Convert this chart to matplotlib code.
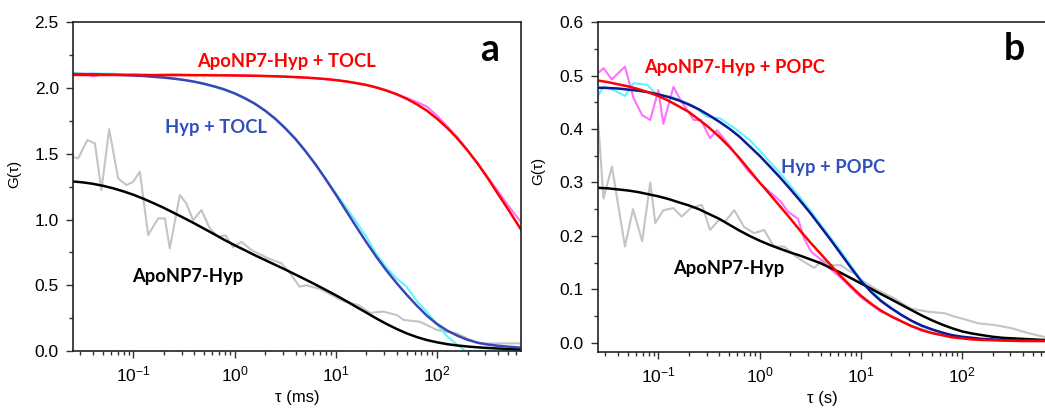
import matplotlib
matplotlib.use('Agg')
import matplotlib.pyplot as plt
from matplotlib.ticker import MultipleLocator, LogLocator, NullFormatter, FormatStrFormatter

plt.rcParams['font.family'] = ['Liberation Sans', 'DejaVu Sans']

# fitted curves are read on this tau grid (ms for panel a, s for panel b)
fit_tau = [0.0251, 0.0316, 0.0398, 0.0501, 0.0631, 0.0794, 0.1, 0.126, 0.158,
           0.2, 0.251, 0.316, 0.398, 0.501, 0.631, 0.794, 1, 1.26, 1.58, 2,
           2.51, 3.16, 3.98, 5.01, 6.31, 7.94, 10, 12.6, 15.8, 20, 25.1, 31.6,
           39.8, 50.1, 63.1, 79.4, 100, 126, 158, 200, 251, 316, 398, 501,
           631, 680]

# panel a: TOCL ----------------------------------------------------------
tocl_apo_hyp_fit = [2.100, 2.100, 2.100, 2.100, 2.100, 2.100, 2.100, 2.099,
                    2.099, 2.099, 2.099, 2.099, 2.098, 2.098, 2.097, 2.097,
                    2.096, 2.095, 2.094, 2.092, 2.090, 2.087, 2.084, 2.080,
                    2.075, 2.069, 2.061, 2.051, 2.038, 2.024, 2.005, 1.982,
                    1.953, 1.919, 1.877, 1.828, 1.767, 1.697, 1.618, 1.525,
                    1.427, 1.316, 1.197, 1.080, 0.959, 0.920]
tocl_hyp_fit = [2.108, 2.107, 2.106, 2.104, 2.102, 2.099, 2.096, 2.092,
                2.086, 2.080, 2.072, 2.062, 2.049, 2.033, 2.013, 1.990,
                1.960, 1.924, 1.882, 1.829, 1.768, 1.696, 1.614, 1.521,
                1.419, 1.307, 1.190, 1.068, 0.949, 0.828, 0.717, 0.613,
                0.517, 0.428, 0.345, 0.268, 0.205, 0.155, 0.117, 0.085,
                0.063, 0.049, 0.040, 0.033, 0.027, 0.025]
apo_a_fit = [1.290, 1.283, 1.272, 1.257, 1.238, 1.215, 1.189, 1.158, 1.125,
             1.089, 1.051, 1.012, 0.972, 0.930, 0.888, 0.845, 0.805, 0.767,
             0.729, 0.692, 0.656, 0.620, 0.582, 0.544, 0.505, 0.465, 0.424,
             0.381, 0.337, 0.292, 0.248, 0.206, 0.168, 0.134, 0.106, 0.083,
             0.066, 0.052, 0.042, 0.034, 0.028, 0.023, 0.019, 0.016, 0.014,
             0.013]

tocl_apo_hyp_tau = [0.025, 0.032, 0.04, 0.05, 0.063, 0.1, 0.16, 0.25, 0.4,
                    0.63, 1, 1.6, 2.5, 4, 6.3, 10, 16, 25, 40, 63, 79, 100,
                    160, 250, 400, 500, 675]
tocl_apo_hyp_data = [2.095, 2.110, 2.090, 2.105, 2.100, 2.105, 2.100, 2.105,
                     2.100, 2.100, 2.098, 2.094, 2.090, 2.084, 2.075, 2.061,
                     2.040, 2.006, 1.955, 1.895, 1.860, 1.790, 1.625, 1.430,
                     1.215, 1.110, 0.980]

tocl_hyp_tau = [0.025, 0.032, 0.04, 0.05, 0.063, 0.1, 0.16, 0.25, 0.4, 0.63,
                1, 1.6, 2.5, 4, 6.3, 10, 13, 16, 20, 25, 32, 40, 50, 63, 79,
                100, 126, 160, 190, 250, 400, 675]
tocl_hyp_data = [2.115, 2.105, 2.112, 2.110, 2.110, 2.100, 2.090, 2.075,
                 2.050, 2.010, 1.960, 1.880, 1.770, 1.615, 1.420, 1.200,
                 1.080, 0.980, 0.870, 0.740, 0.630, 0.550, 0.490, 0.380,
                 0.300, 0.200, 0.110, 0.045, 0.000, 0.000, 0.002, 0.004]

apo_a_tau = [0.0251, 0.0285, 0.0352, 0.0417, 0.0484, 0.0577, 0.0708, 0.0855,
             0.0995, 0.116, 0.140, 0.176, 0.205, 0.229, 0.288, 0.334, 0.389,
             0.470, 0.569, 0.687, 0.813, 0.966, 1.17, 1.47, 2.14, 2.90, 3.63,
             4.37, 5.13, 7.08, 9.77, 12.3, 16.6, 21.8, 29.5, 39.8, 46.8, 67.6,
             100, 155, 214, 263, 398, 676]
apo_a_data = [1.478, 1.465, 1.605, 1.580, 1.224, 1.688, 1.313, 1.262, 1.287,
              1.364, 0.882, 1.009, 1.009, 0.781, 1.186, 1.123, 0.996, 1.072,
              0.933, 0.869, 0.880, 0.790, 0.830, 0.768, 0.705, 0.667, 0.580,
              0.490, 0.500, 0.470, 0.413, 0.375, 0.350, 0.290, 0.300, 0.274,
              0.236, 0.223, 0.160, 0.135, 0.084, 0.058, 0.058, 0.058]

# panel b: POPC ----------------------------------------------------------
popc_apo_hyp_fit = [0.491, 0.488, 0.484, 0.480, 0.475, 0.469, 0.462, 0.453,
                    0.443, 0.432, 0.418, 0.403, 0.386, 0.367, 0.346, 0.323,
                    0.300, 0.278, 0.256, 0.233, 0.210, 0.188, 0.167, 0.146,
                    0.125, 0.106, 0.088, 0.073, 0.060, 0.049, 0.040, 0.031,
                    0.024, 0.018, 0.014, 0.010, 0.008, 0.006, 0.005, 0.0045,
                    0.004, 0.0035, 0.003, 0.003, 0.003, 0.003]
popc_hyp_fit = [0.4775, 0.477, 0.476, 0.474, 0.472, 0.469, 0.465, 0.460,
                0.454, 0.446, 0.437, 0.426, 0.414, 0.401, 0.386, 0.368,
                0.350, 0.330, 0.310, 0.288, 0.266, 0.243, 0.218, 0.193,
                0.167, 0.141, 0.116, 0.095, 0.078, 0.064, 0.052, 0.041,
                0.032, 0.025, 0.019, 0.014, 0.011, 0.009, 0.007, 0.006,
                0.005, 0.0045, 0.004, 0.004, 0.004, 0.004]
apo_b_fit = [0.290, 0.289, 0.287, 0.285, 0.282, 0.278, 0.274, 0.269, 0.263,
             0.257, 0.250, 0.241, 0.232, 0.221, 0.210, 0.200, 0.191, 0.183,
             0.176, 0.169, 0.163, 0.156, 0.149, 0.140, 0.131, 0.121, 0.111,
             0.101, 0.091, 0.081, 0.071, 0.061, 0.051, 0.042, 0.034, 0.027,
             0.021, 0.017, 0.014, 0.011, 0.009, 0.008, 0.007, 0.006, 0.005,
             0.005]

popc_apo_hyp_tau = [0.0251, 0.0288, 0.0347, 0.0468, 0.0569, 0.0692, 0.0832,
                    0.1, 0.112, 0.141, 0.166, 0.224, 0.263, 0.324, 0.380,
                    0.513, 0.759, 1.02, 1.62, 1.91, 2.40, 2.75, 3.24, 4.07,
                    5.13, 6.31, 10, 15.8, 20, 25.1, 39.8, 63.1, 100, 158,
                    251, 398, 676]
popc_apo_hyp_data = [0.504, 0.514, 0.493, 0.517, 0.458, 0.426, 0.417, 0.473,
                     0.410, 0.479, 0.454, 0.417, 0.417, 0.383, 0.398, 0.367,
                     0.323, 0.298, 0.264, 0.245, 0.232, 0.195, 0.170, 0.155,
                     0.136, 0.122, 0.085, 0.058, 0.050, 0.040, 0.022, 0.014,
                     0.009, 0.006, 0.004, 0.003, 0.003]

popc_hyp_tau = [0.0251, 0.0288, 0.0363, 0.0468, 0.0569, 0.0776, 0.0977,
                0.132, 0.166, 0.224, 0.302, 0.407, 0.562, 0.794, 1, 1.58,
                2.51, 3.98, 6.31, 10, 15.8, 25.1, 39.8, 63.1, 100, 158, 251,
                398, 676]
popc_hyp_data = [0.461, 0.480, 0.473, 0.462, 0.486, 0.483, 0.464, 0.461,
                 0.454, 0.443, 0.423, 0.420, 0.402, 0.380, 0.360, 0.318,
                 0.272, 0.222, 0.172, 0.118, 0.080, 0.052, 0.030, 0.017,
                 0.010, 0.006, 0.004, 0.003, 0.003]

apo_b_tau = [0.0251, 0.0287, 0.0348, 0.0468, 0.0562, 0.0692, 0.0832, 0.0933,
             0.112, 0.141, 0.170, 0.209, 0.269, 0.324, 0.398, 0.457, 0.562,
             0.700, 0.881, 1.11, 1.38, 1.74, 2.34, 2.82, 3.47, 4.17, 5.01,
             6.31, 7.59, 8.91, 10.7, 14.5, 21.4, 30.9, 45.7, 67.6, 83.2, 100,
             145, 209, 309, 447, 676]
apo_b_data = [0.430, 0.270, 0.330, 0.180, 0.250, 0.190, 0.300, 0.224, 0.248,
              0.252, 0.236, 0.252, 0.258, 0.211, 0.230, 0.227, 0.248, 0.217,
              0.205, 0.211, 0.180, 0.180, 0.160, 0.150, 0.140, 0.155, 0.145,
              0.145, 0.135, 0.128, 0.114, 0.099, 0.083, 0.064, 0.058, 0.055,
              0.049, 0.045, 0.036, 0.033, 0.027, 0.018, 0.010]

C_RED = '#ff0000'
C_PINK = '#ff70ff'
C_CYAN = '#5ff5ff'
C_GRAY = '#c4c4c4'
C_TXT_BLUE = '#3050c0'

fig = plt.figure(figsize=(10.45, 4.17), dpi=100)
ax_a = fig.add_axes([0.0696, 0.1583, 0.429, 0.788])
ax_b = fig.add_axes([0.572, 0.1566, 0.429, 0.7899])


def style_axis(ax, xlabel, ymax, ymin, major, minor):
    ax.set_xscale('log')
    ax.set_xlim(0.0252, 675)
    ax.set_ylim(ymin, ymax)
    ax.yaxis.set_major_locator(MultipleLocator(major))
    ax.yaxis.set_minor_locator(MultipleLocator(minor))
    ax.yaxis.set_major_formatter(FormatStrFormatter('%.1f'))
    ax.xaxis.set_major_locator(LogLocator(base=10, numticks=10))
    ax.xaxis.set_minor_locator(LogLocator(base=10, subs=range(2, 10), numticks=20))
    ax.xaxis.set_minor_formatter(NullFormatter())
    ax.tick_params(which='both', direction='out', top=False, right=False,
                   labelsize=12.5, width=1, color='#333333')
    ax.tick_params(which='major', length=5, pad=5)
    ax.tick_params(which='minor', length=3)
    for sp in ax.spines.values():
        sp.set_linewidth(1.2)
        sp.set_color('#222222')
    ax.set_xlabel(xlabel, fontsize=12)
    ax.xaxis.set_label_coords(0.5, -0.118)
    ax.xaxis.label.set_va('top')
    ax.set_ylabel('G(\u03c4)', fontsize=11)


# panel a
ax_a.plot(apo_a_tau, apo_a_data, color=C_GRAY, lw=1.5)
ax_a.plot(tocl_apo_hyp_tau, tocl_apo_hyp_data, color=C_PINK, lw=1.5)
ax_a.plot(tocl_hyp_tau, tocl_hyp_data, color=C_CYAN, lw=1.5)
ax_a.plot(fit_tau, apo_a_fit, color='black', lw=1.8)
ax_a.plot(fit_tau, tocl_hyp_fit, color='#3a46b4', lw=1.8)
ax_a.plot(fit_tau, tocl_apo_hyp_fit, color=C_RED, lw=1.8)
style_axis(ax_a, '\u03c4 (ms)', 2.5, 0.0, 0.5, 0.25)
ax_a.yaxis.set_label_coords(-0.115, 0.54)

lbl = dict(fontfamily='Lato', fontweight='bold', fontsize=13.2,
           ha='center', va='baseline')
ax_a.text(0.476, 0.865, 'ApoNP7-Hyp + TOCL', color=C_RED, transform=ax_a.transAxes, **lbl)
ax_a.text(0.320, 0.664, 'Hyp + TOCL', color=C_TXT_BLUE, transform=ax_a.transAxes, **lbl)
ax_a.text(0.256, 0.211, 'ApoNP7-Hyp', color='black', transform=ax_a.transAxes, **lbl)
ax_a.text(0.929, 0.882, 'a', fontfamily='Lato', fontweight='bold', fontsize=27,
          ha='center', va='baseline', transform=ax_a.transAxes)

# panel b
ax_b.plot(apo_b_tau, apo_b_data, color=C_GRAY, lw=1.5)
ax_b.plot(popc_hyp_tau, popc_hyp_data, color=C_CYAN, lw=1.5)
ax_b.plot(popc_apo_hyp_tau, popc_apo_hyp_data, color=C_PINK, lw=1.5)
ax_b.plot(fit_tau, apo_b_fit, color='black', lw=1.8)
ax_b.plot(fit_tau, popc_hyp_fit, color='#0c1896', lw=1.8)
ax_b.plot(fit_tau, popc_apo_hyp_fit, color=C_RED, lw=1.8)
style_axis(ax_b, '\u03c4 (s)', 0.6, -0.017, 0.1, 0.05)
ax_b.yaxis.set_label_coords(-0.1175, 0.55)

ax_b.text(0.305, 0.847, 'ApoNP7-Hyp + POPC', color=C_RED, transform=ax_b.transAxes, **lbl)
ax_b.text(0.526, 0.542, 'Hyp + POPC', color=C_TXT_BLUE, transform=ax_b.transAxes, **lbl)
ax_b.text(0.293, 0.236, 'ApoNP7-Hyp', color='black', transform=ax_b.transAxes, **lbl)
ax_b.text(0.930, 0.886, 'b', fontfamily='Lato', fontweight='bold', fontsize=27,
          ha='center', va='baseline', transform=ax_b.transAxes)

fig.savefig('out.png', dpi=100)
